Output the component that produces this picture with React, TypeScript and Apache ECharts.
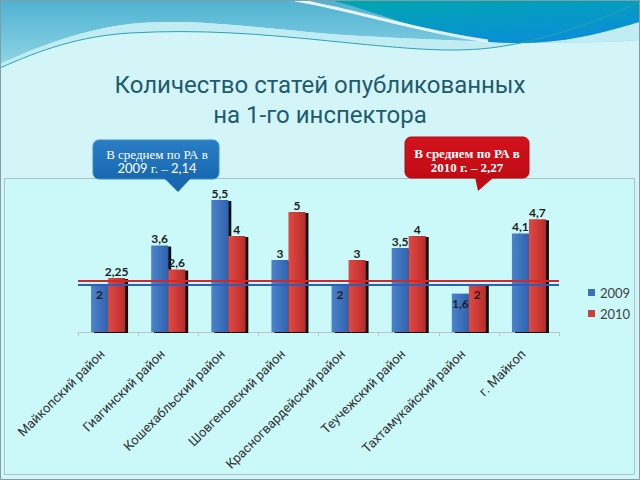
import React, { useEffect, useRef } from "react";
import * as echarts from "echarts";

const categories = [
  "Майкопский район",
  "Гиагинский район",
  "Кошехабльский район",
  "Шовгеновский район",
  "Красногвардейский район",
  "Теучежский район",
  "Тахтамукайский район",
  "г. Майкоп",
];
const seriesNames = ["2009", "2010"];
const values2009 = [2, 3.6, 5.5, 3, 2, 3.5, 1.6, 4.1];
const values2010 = [2.25, 2.6, 4, 5, 3, 4, 2, 4.7];
// levels at which the two reference lines are drawn in the picture
const refLine2009 = 1.96;
const refLine2010 = 2.13;
// bars whose value label sits inside the bar top
const inside2009 = [0, 4, 6];
const inside2010 = [6];
const titleLines = ["Количество статей опубликованных", "на 1-го инспектора"];
const callout2009 = ["В среднем по РА в", "2009", "г. –", "2,14"];
const callout2010 = ["В среднем по РА в", "2010 г. – 2,27"];

echarts.graphic.registerShape(
  "waveLight",
  echarts.graphic.extendPath(
    "M0,0 L640,0 L640,40 C560,46 420,40 330,34 C250,27 190,18 130,24 C80,30 35,48 0,64 Z",
    {}
  )
);
echarts.graphic.registerShape(
  "wavePale",
  echarts.graphic.extendPath(
    "M0,64 C35,48 80,30 130,24 C190,18 250,27 330,34 C420,40 560,46 640,40 L640,2 C600,20 540,44 480,49 C440,52 400,48 330,41 C260,34 200,29 130,33 C80,36 40,50 0,68 Z",
    {}
  )
);
echarts.graphic.registerShape(
  "waveDark",
  echarts.graphic.extendPath(
    "M330,0 C385,14 430,36 490,42 C560,48 610,30 640,22 L640,0 Z",
    {}
  )
);
echarts.graphic.registerShape(
  "waveLine",
  echarts.graphic.extendPath(
    "M0,68 C40,50 80,36 130,33 C200,29 260,34 330,41 C400,48 440,52 480,49 C540,44 600,20 640,2",
    {}
  )
);
echarts.graphic.registerShape(
  "waveSwoosh",
  echarts.graphic.extendPath("M295,0 C355,10 420,32 488,41", {})
);

const fmt = (v: number) => String(v).replace(".", ",");

const blueGrad = new echarts.graphic.LinearGradient(0, 0, 1, 0, [
  { offset: 0, color: "#4d83cc" },
  { offset: 1, color: "#2f62ad" },
]);
const redGrad = new echarts.graphic.LinearGradient(0, 0, 1, 0, [
  { offset: 0, color: "#de4a44" },
  { offset: 1, color: "#bb2b29" },
]);

function barData(values: number[], inside: number[]) {
  return values.map((v, i) =>
    inside.includes(i)
      ? { value: v, label: { position: "insideTop", distance: 4 } }
      : v
  );
}

export default function App() {
  const ref = useRef<HTMLDivElement>(null);
  useEffect(() => {
    if (!ref.current) return;
    const chart = echarts.init(ref.current, null, { renderer: "svg" });
    const labelStyle = {
      show: true,
      position: "top",
      distance: 1,
      fontSize: 12,
      fontWeight: "bold",
      color: "#1e1e1e",
      fontFamily: "Lato, Roboto, sans-serif",
      formatter: (p: any) => fmt(p.value),
    };
    const shadow = {
      shadowColor: "rgba(0,0,0,0.95)",
      shadowBlur: 1,
      shadowOffsetX: 3,
      shadowOffsetY: 1,
    };
    chart.setOption({
      animation: false,
      backgroundColor: "#d4f5f8",
      graphic: [
        {
          type: "waveLight",
          z: -10,
          silent: true,
          style: {
            fill: new echarts.graphic.LinearGradient(0, 0, 0, 1, [
              { offset: 0, color: "#4fb2d0" },
              { offset: 1, color: "#8fd4e6" },
            ]),
          },
        },
        { type: "wavePale", z: -10, silent: true, style: { fill: "#c2ecf3" } },
        {
          type: "waveDark",
          z: -10,
          silent: true,
          style: {
            fill: new echarts.graphic.LinearGradient(0, 0, 0.6, 1, [
              { offset: 0, color: "#00a7ae" },
              { offset: 1, color: "#0a8fd6" },
            ]),
          },
        },
        {
          type: "waveSwoosh",
          z: -10,
          silent: true,
          style: { fill: null, stroke: "rgba(255,255,255,0.85)", lineWidth: 3 },
        },
        {
          type: "waveLine",
          z: -10,
          silent: true,
          style: { fill: null, stroke: "#2ba3b3", lineWidth: 1 },
        },
        {
          type: "rect",
          z: -10,
          silent: true,
          shape: { x: 0.5, y: 0.5, width: 639, height: 479 },
          style: { fill: null, stroke: "#7f9fa8", lineWidth: 1 },
        },
        {
          type: "rect",
          z: -9,
          silent: true,
          shape: { x: 4.5, y: 178.5, width: 630, height: 296 },
          style: { fill: "#cbf9fa", stroke: "#a7c3c8", lineWidth: 1 },
        },
        {
          type: "text",
          z: 5,
          x: 320,
          y: 85,
          style: {
            text: titleLines[0],
            align: "center",
            verticalAlign: "middle",
            font: "24px Roboto, sans-serif",
            fill: "#1d5b6f",
          },
        },
        {
          type: "text",
          z: 5,
          x: 320,
          y: 115,
          style: {
            text: titleLines[1],
            align: "center",
            verticalAlign: "middle",
            font: "24px Roboto, sans-serif",
            fill: "#1d5b6f",
          },
        },
        // 2009 callout
        {
          type: "rect",
          z: 10,
          shape: { x: 93, y: 140, width: 126, height: 39, r: 6 },
          style: {
            fill: new echarts.graphic.LinearGradient(0, 0, 0, 1, [
              { offset: 0, color: "#2a7ec6" },
              { offset: 1, color: "#1768b0" },
            ]),
            stroke: "#3f8ccf",
            lineWidth: 1,
          },
        },
        {
          type: "polygon",
          z: 10,
          shape: { points: [[164, 178], [191, 178], [178, 192]] },
          style: { fill: "#1768b0" },
        },
        {
          type: "text",
          z: 11,
          x: 157,
          y: 154,
          style: {
            text: callout2009[0],
            align: "center",
            verticalAlign: "middle",
            font: "13px 'Liberation Serif', serif",
            fill: "#ffffff",
          },
        },
        {
          type: "text",
          z: 11,
          x: 157,
          y: 168,
          style: {
            text: `{s|${callout2009[1]}} {r|${callout2009[2]}} {s|${callout2009[3]}}`,
            align: "center",
            verticalAlign: "middle",
            fill: "#ffffff",
            rich: {
              s: { fontFamily: "Lato, Roboto, sans-serif", fontSize: 13, fill: "#ffffff" },
              r: { fontFamily: "'Liberation Serif', serif", fontSize: 13, fill: "#ffffff" },
            },
          },
        },
        // 2010 callout
        {
          type: "rect",
          z: 10,
          shape: { x: 405, y: 137, width: 124, height: 41, r: 6 },
          style: {
            fill: new echarts.graphic.LinearGradient(0, 0, 0, 1, [
              { offset: 0, color: "#d3121c" },
              { offset: 1, color: "#c00c15" },
            ]),
            stroke: "#b50a12",
            lineWidth: 1,
          },
        },
        {
          type: "polygon",
          z: 10,
          shape: { points: [[475, 177], [494, 177], [478, 191]] },
          style: { fill: "#c00c15" },
        },
        {
          type: "text",
          z: 11,
          x: 467,
          y: 153,
          style: {
            text: callout2010[0],
            align: "center",
            verticalAlign: "middle",
            font: "bold 13px 'Liberation Serif', serif",
            fill: "#ffffff",
          },
        },
        {
          type: "text",
          z: 11,
          x: 467,
          y: 167,
          style: {
            text: callout2010[1],
            align: "center",
            verticalAlign: "middle",
            font: "bold 13px 'Liberation Serif', serif",
            fill: "#ffffff",
          },
        },
      ],
      legend: {
        orient: "vertical",
        left: 583,
        top: 281,
        itemWidth: 7,
        itemHeight: 7,
        itemGap: 8,
        icon: "rect",
        textStyle: { fontSize: 13, color: "#404040", fontFamily: "Lato, Roboto, sans-serif" },
        data: [
          { name: seriesNames[0], itemStyle: { color: "#3a6fbd" } },
          { name: seriesNames[1], itemStyle: { color: "#c9403c" } },
        ],
      },
      grid: { left: 78, right: 81, top: 188, bottom: 148 },
      xAxis: {
        type: "category",
        data: categories,
        axisLine: { lineStyle: { color: "#b9c6c8", width: 1 } },
        axisTick: { show: true, length: 4, lineStyle: { color: "#b9c6c8" } },
        axisLabel: {
          interval: 0,
          rotate: 45,
          margin: 14,
          padding: [0, 8, 0, 0],
          fontSize: 13,
          color: "#333333",
          fontFamily: "Roboto, sans-serif",
        },
      },
      yAxis: {
        type: "value",
        min: 0,
        max: 6,
        show: false,
        splitLine: { show: false },
      },
      series: [
        {
          name: seriesNames[0],
          type: "bar",
          barWidth: 17,
          barGap: "0%",
          data: barData(values2009, inside2009),
          itemStyle: { color: blueGrad, ...shadow },
          label: labelStyle,
          markLine: {
            silent: true,
            symbol: "none",
            label: { show: false },
            lineStyle: { color: "#2c5fb5", width: 2, type: "solid" },
            data: [{ yAxis: refLine2009 }],
          },
        },
        {
          name: seriesNames[1],
          type: "bar",
          barWidth: 17,
          barGap: "0%",
          data: barData(values2010, inside2010),
          itemStyle: { color: redGrad, ...shadow },
          label: labelStyle,
          markLine: {
            silent: true,
            symbol: "none",
            label: { show: false },
            lineStyle: { color: "#d0292b", width: 2, type: "solid" },
            data: [{ yAxis: refLine2010 }],
          },
        },
      ],
    });
    return () => chart.dispose();
  }, []);
  return <div ref={ref} style={{ width: 640, height: 480, position: "absolute", left: 0, top: 0 }} />;
}
